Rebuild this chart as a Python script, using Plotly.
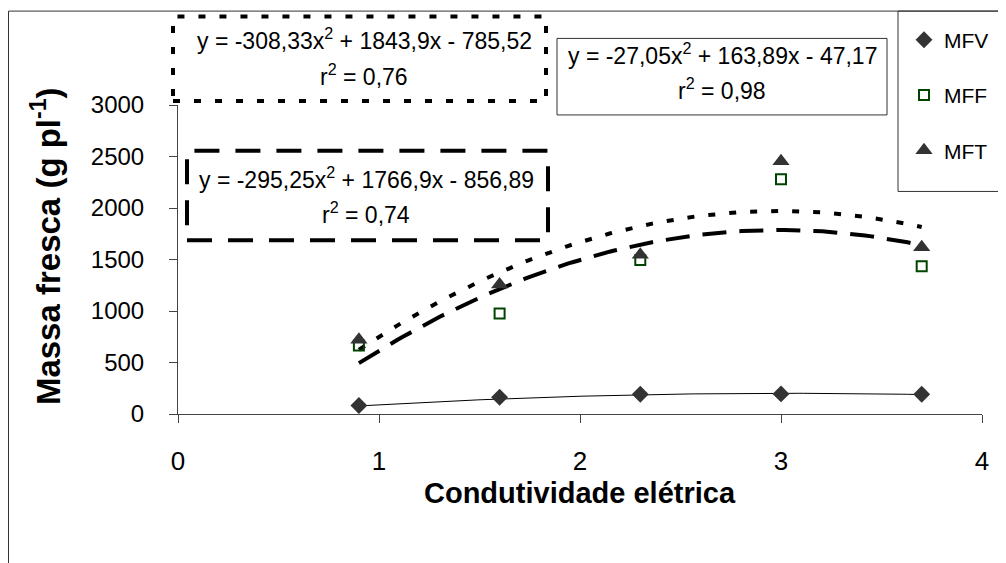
import numpy as np
import plotly.graph_objects as go

# ---- data ----
x_ce = [0.9, 1.6, 2.3, 3.0, 3.7]
mfv = [82, 162, 192, 195, 192]
mff = [665, 975, 1495, 2280, 1435]
mft = [720, 1258, 1545, 2455, 1618]

# trendline coefficients (a, b, c) for y = a x^2 + b x + c, as printed on chart
coef_mfv = [-27.05, 163.89, -47.17]
coef_mff = [-295.25, 1766.9, -856.89]
coef_mft = [-308.33, 1843.9, -785.52]

eq_mfv = ["y = -27,05x<sup>2</sup> + 163,89x - 47,17", "r<sup>2</sup> = 0,98"]
eq_mff = ["y = -295,25x<sup>2</sup> + 1766,9x - 856,89", "r<sup>2</sup> = 0,74"]
eq_mft = ["y = -308,33x<sup>2</sup> + 1843,9x - 785,52", "r<sup>2</sup> = 0,76"]

x_ticks = [0, 1, 2, 3, 4]
y_ticks = [0, 500, 1000, 1500, 2000, 2500, 3000]

FONT = "Liberation Sans, Arial, sans-serif"
W, H = 1006, 563
OFF = 8  # page body margin
L, R, T, B = 170, 32, 95, 157
PW, PH = W - L - R, H - T - B


def px(xp):
    return (xp - OFF - L) / PW


def py(yp):
    return (H - B - (yp - OFF)) / PH


xs = np.linspace(min(x_ce), max(x_ce), 120)


def trend(c):
    return np.polyval(c, xs)


fig = go.Figure()

# trendlines
fig.add_trace(go.Scatter(x=xs, y=trend(coef_mfv), mode="lines",
                         line=dict(color="black", width=1), showlegend=False, hoverinfo="skip"))
fig.add_trace(go.Scatter(x=xs, y=trend(coef_mff), mode="lines",
                         line=dict(color="black", width=4, dash="24px,13px"), showlegend=False, hoverinfo="skip"))
fig.add_trace(go.Scatter(x=xs, y=trend(coef_mft), mode="lines",
                         line=dict(color="black", width=4, dash="7px,14px"), showlegend=False, hoverinfo="skip"))

# points
fig.add_trace(go.Scatter(x=x_ce, y=mfv, mode="markers", name="MFV", legendgroup="a",
                         marker=dict(symbol="diamond", size=13, color="#333333")))
fig.add_trace(go.Scatter(x=x_ce, y=mff, mode="markers", name="MFF", legendgroup="b",
                         marker=dict(symbol="square-open", size=10, color="#004400", line=dict(width=2))))
fig.add_trace(go.Scatter(x=x_ce, y=mft, mode="markers", name="MFT", legendgroup="c",
                         marker=dict(symbol="triangle-up", size=15, color="#333333")))

shapes = []
# outer chart border
shapes.append(dict(type="rect", xref="paper", yref="paper",
                   x0=px(8.5), x1=px(1030), y0=py(590), y1=py(8.5),
                   line=dict(color="#333333", width=1)))
# legend box
shapes.append(dict(type="rect", xref="paper", yref="paper",
                   x0=px(898), x1=px(1030), y0=py(190), y1=py(8.5),
                   line=dict(color="#333333", width=1)))
# equation boxes
shapes.append(dict(type="rect", xref="paper", yref="paper",
                   x0=px(173), x1=px(546), y0=py(99), y1=py(14),
                   fillcolor="white", layer="above",
                   line=dict(color="black", width=4, dash="7px,14px")))
shapes.append(dict(type="rect", xref="paper", yref="paper",
                   x0=px(557), x1=px(887), y0=py(113), y1=py(36),
                   fillcolor="white", layer="above",
                   line=dict(color="#333333", width=1)))
shapes.append(dict(type="rect", xref="paper", yref="paper",
                   x0=px(187), x1=px(548), y0=py(239), y1=py(149),
                   fillcolor="white", layer="above",
                   line=dict(color="black", width=4, dash="25px,16px")))

ann = []


def eq_text(lines, cx, y1, y2):
    for t, yy in zip(lines, (y1, y2)):
        ann.append(dict(text=t, x=px(cx), y=py(yy), xref="paper", yref="paper",
                        showarrow=False, xanchor="center", yanchor="middle",
                        font=dict(family=FONT, size=23, color="black")))


eq_text(eq_mft, 364, 37, 73)
eq_text(eq_mfv, 722, 52, 87)
eq_text(eq_mff, 366, 176, 212)

ann.append(dict(text="Massa fresca (g pl<sup>-1</sup>)", x=px(46), y=py(245), xref="paper", yref="paper",
                showarrow=False, textangle=-90, xanchor="center", yanchor="middle",
                font=dict(family=FONT, size=33, color="black", weight="bold")))
ann.append(dict(text="Condutividade elétrica", x=px(580), y=py(494), xref="paper", yref="paper",
                showarrow=False, xanchor="center", yanchor="middle",
                font=dict(family=FONT, size=29, color="black", weight="bold")))

fig.update_layout(
    width=W, height=H,
    margin=dict(l=L, r=R, t=T, b=B, pad=0),
    paper_bgcolor="white", plot_bgcolor="white",
    font=dict(family=FONT, color="black"),
    shapes=shapes, annotations=ann,
    showlegend=True,
    legend=dict(x=px(904), y=py(17), xanchor="left", yanchor="top",
                bgcolor="rgba(0,0,0,0)", borderwidth=0,
                font=dict(family=FONT, size=21, color="black"),
                tracegroupgap=25, traceorder="grouped", itemwidth=30),
    xaxis=dict(range=[0, 4], tickvals=x_ticks, ticktext=[str(v) for v in x_ticks],
               showgrid=False, zeroline=False, showline=True, linecolor="#444444", linewidth=1,
               ticks="outside", ticklen=8, tickcolor="#444444",
               tickfont=dict(family=FONT, size=26, color="black"), ticklabelstandoff=16),
    yaxis=dict(range=[0, 3000], tickvals=y_ticks, ticktext=[str(v) for v in y_ticks],
               showgrid=False, zeroline=False, showline=True, linecolor="#444444", linewidth=1,
               ticks="outside", ticklen=8, tickcolor="#444444",
               tickfont=dict(family=FONT, size=24, color="black"), ticklabelstandoff=20),
)

fig.write_html("out.html")
